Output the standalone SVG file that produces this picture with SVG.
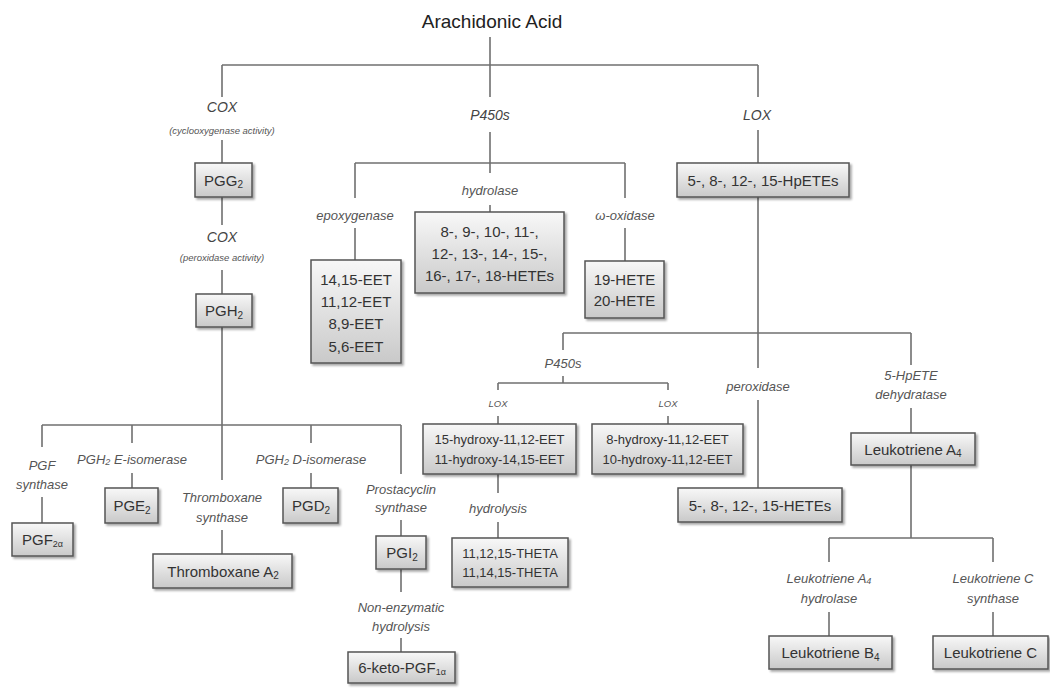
<svg xmlns="http://www.w3.org/2000/svg" width="1050" height="688" viewBox="0 0 1050 688">
<defs>
<linearGradient id="g" x1="0" y1="0" x2="0" y2="1">
<stop offset="0" stop-color="#f8f8f8"/>
<stop offset="1" stop-color="#c9c9c9"/>
</linearGradient>
<filter id="sh" x="-20%" y="-20%" width="140%" height="150%">
<feDropShadow dx="2" dy="2" stdDeviation="1.3" flood-color="#000" flood-opacity="0.35"/>
</filter>
<style>
.box{fill:url(#g);stroke:#555;stroke-width:1.5;filter:url(#sh)}
.bt{font-family:"Liberation Sans",Arial,sans-serif;font-size:15px;fill:#333;text-anchor:middle;dominant-baseline:central}
.bs{font-family:"Liberation Sans",Arial,sans-serif;font-size:13px;fill:#333;text-anchor:middle;dominant-baseline:central}
.lb{font-family:"Liberation Sans",Arial,sans-serif;font-size:13px;font-style:italic;fill:#555;text-anchor:middle;dominant-baseline:central}
.sm{font-family:"Liberation Sans",Arial,sans-serif;font-size:9.5px;font-style:italic;fill:#555;text-anchor:middle;dominant-baseline:central}
.bg{font-family:"Liberation Sans",Arial,sans-serif;font-size:14px;font-style:italic;fill:#444;text-anchor:middle;dominant-baseline:central}
.ttl{font-family:"Liberation Sans",Arial,sans-serif;font-size:19px;fill:#222;text-anchor:middle;dominant-baseline:central}
.cn{fill:none;stroke:#707070;stroke-width:1.6}
</style>
</defs>
<rect width="1050" height="688" fill="#fff"/>

<g id="connectors" class="cn">
<path d="M490,37 V97 M222,65 H758 M222,65 V97 M758,65 V97"/>
<path d="M222,140 V163 M222,197 V225 M222,270 V294 M222,327 V480"/>
<path d="M490,132 V173 M355,163 H625 M355,163 V198 M625,163 V198 M490,205 V212 M355,228 V260 M625,228 V261"/>
<path d="M758,130 V163 M758,197 V368 M563,333 H911 M563,333 V350 M563,376 V383 M498,383 H668 M498,383 V390 M668,383 V390 M498,416 V424 M668,416 V424"/>
<path d="M498,474 V493 M498,522 V538 M758,400 V488"/>
<path d="M911,333 V365 M911,408 V433 M911,465 V538 M829,538 H993 M829,538 V562 M993,538 V562 M829,612 V636 M993,612 V636"/>
<path d="M42,425 H401 M42,425 V447 M42,497 V523 M132,425 V443 M132,473 V488 M222,530 V554 M311,425 V443 M311,473 V488 M401,425 V474 M401,520 V536 M401,569 V592 M401,638 V652"/>
</g>

<g id="title"><text class="ttl" x="492" y="21">Arachidonic Acid</text></g>

<g id="lbl-cox1"><text class="bg" x="222" y="107">COX</text><text class="sm" x="222" y="130">(cyclooxygenase activity)</text></g>
<g id="lbl-p450"><text class="bg" x="490" y="115" font-size="15">P450s</text></g>
<g id="lbl-lox"><text class="bg" x="757" y="115">LOX</text></g>

<g id="pgg2"><rect class="box" x="195" y="163" width="57" height="34"/><text class="bt" x="223.5" y="180">PGG<tspan font-size="10" dy="4">2</tspan></text></g>
<g id="lbl-cox2"><text class="bg" x="222" y="237">COX</text><text class="sm" x="222" y="257">(peroxidase activity)</text></g>
<g id="pgh2"><rect class="box" x="196" y="294" width="56" height="33"/><text class="bt" x="224" y="310.5">PGH<tspan font-size="10" dy="4">2</tspan></text></g>

<g id="lbl-hydrolase"><text class="lb" x="490" y="190">hydrolase</text></g>
<g id="lbl-epox"><text class="lb" x="355" y="215">epoxygenase</text></g>
<g id="lbl-omega"><text class="lb" x="625" y="215">ω-oxidase</text></g>

<g id="eets"><rect class="box" x="311" y="260" width="90" height="103"/>
<text class="bt" x="356" y="279">14,15-EET</text><text class="bt" x="356" y="301">11,12-EET</text><text class="bt" x="356" y="323">8,9-EET</text><text class="bt" x="356" y="346">5,6-EET</text></g>

<g id="hetes-p450"><rect class="box" x="415" y="212" width="149" height="81"/>
<text class="bt" x="489.5" y="231">8-, 9-, 10-, 11-,</text><text class="bt" x="489.5" y="253">12-, 13-, 14-, 15-,</text><text class="bt" x="489.5" y="275">16-, 17-, 18-HETEs</text></g>

<g id="hete1920"><rect class="box" x="585" y="261" width="79" height="57"/>
<text class="bt" x="624.5" y="279">19-HETE</text><text class="bt" x="624.5" y="300">20-HETE</text></g>

<g id="hpetes"><rect class="box" x="677" y="163" width="172" height="34"/><text class="bt" x="763" y="180">5-, 8-, 12-, 15-HpETEs</text></g>

<g id="lbl-p450b"><text class="lb" x="563" y="363" font-size="12.5">P450s</text></g>
<g id="lbl-lox-a"><text class="sm" x="498" y="403">LOX</text></g>
<g id="lbl-lox-b"><text class="sm" x="668" y="403">LOX</text></g>

<g id="hydroxy-a"><rect class="box" x="423" y="424" width="153" height="50"/>
<text class="bs" x="499.5" y="439">15-hydroxy-11,12-EET</text><text class="bs" x="499.5" y="459">11-hydroxy-14,15-EET</text></g>
<g id="hydroxy-b"><rect class="box" x="592" y="424" width="151" height="50"/>
<text class="bs" x="667.5" y="439">8-hydroxy-11,12-EET</text><text class="bs" x="667.5" y="459">10-hydroxy-11,12-EET</text></g>

<g id="lbl-hydrolysis"><text class="lb" x="498" y="508">hydrolysis</text></g>
<g id="theta"><rect class="box" x="452" y="538" width="116" height="49"/>
<text class="bs" x="510" y="553">11,12,15-THETA</text><text class="bs" x="510" y="572">11,14,15-THETA</text></g>

<g id="lbl-peroxidase"><text class="lb" x="758" y="386">peroxidase</text></g>
<g id="hetes-lox"><rect class="box" x="678" y="488" width="164" height="34"/><text class="bt" x="760" y="505">5-, 8-, 12-, 15-HETEs</text></g>

<g id="lbl-dehydratase"><text class="lb" x="911" y="375">5-HpETE</text><text class="lb" x="911" y="394">dehydratase</text></g>
<g id="lta4"><rect class="box" x="851" y="433" width="124" height="32"/><text class="bt" x="913" y="449">Leukotriene A<tspan font-size="10" dy="4">4</tspan></text></g>

<g id="lbl-lta4h"><text class="lb" x="829" y="578">Leukotriene A<tspan font-size="9" dy="3">4</tspan></text><text class="lb" x="829" y="598">hydrolase</text></g>
<g id="lbl-ltcs"><text class="lb" x="993" y="578">Leukotriene C</text><text class="lb" x="993" y="598">synthase</text></g>
<g id="ltb4"><rect class="box" x="769" y="636" width="123" height="33"/><text class="bt" x="830.5" y="652.5">Leukotriene B<tspan font-size="10" dy="4">4</tspan></text></g>
<g id="ltc"><rect class="box" x="933" y="636" width="115" height="33"/><text class="bt" x="990.5" y="652.5">Leukotriene C</text></g>

<g id="lbl-pgfs"><text class="lb" x="42" y="465">PGF</text><text class="lb" x="42" y="484">synthase</text></g>
<g id="pgf2a"><rect class="box" x="12" y="523" width="61" height="33"/><text class="bt" x="42.5" y="539.5">PGF<tspan font-size="9" dy="4">2α</tspan></text></g>

<g id="lbl-eiso"><text class="lb" x="132" y="459">PGH<tspan font-size="9" dy="3">2</tspan><tspan dy="-3"> E-isomerase</tspan></text></g>
<g id="pge2"><rect class="box" x="105" y="488" width="53" height="35"/><text class="bt" x="132" y="505.5">PGE<tspan font-size="10" dy="4">2</tspan></text></g>

<g id="lbl-txs"><text class="lb" x="222" y="497">Thromboxane</text><text class="lb" x="222" y="517">synthase</text></g>
<g id="txa2"><rect class="box" x="153" y="554" width="139" height="34"/><text class="bt" x="223" y="571">Thromboxane A<tspan font-size="10" dy="4">2</tspan></text></g>

<g id="lbl-diso"><text class="lb" x="311" y="459">PGH<tspan font-size="9" dy="3">2</tspan><tspan dy="-3"> D-isomerase</tspan></text></g>
<g id="pgd2"><rect class="box" x="283" y="488" width="55" height="35"/><text class="bt" x="311" y="505.5">PGD<tspan font-size="10" dy="4">2</tspan></text></g>

<g id="lbl-pgis"><text class="lb" x="401" y="489">Prostacyclin</text><text class="lb" x="401" y="507">synthase</text></g>
<g id="pgi2"><rect class="box" x="376" y="536" width="50" height="33"/><text class="bt" x="402" y="552.5">PGI<tspan font-size="10" dy="4">2</tspan></text></g>
<g id="lbl-nonenz"><text class="lb" x="401" y="607">Non-enzymatic</text><text class="lb" x="401" y="626">hydrolysis</text></g>
<g id="ketopgf"><rect class="box" x="348" y="652" width="107" height="31"/><text class="bt" x="402" y="667.5">6-keto-PGF<tspan font-size="9" dy="4">1α</tspan></text></g>
</svg>
